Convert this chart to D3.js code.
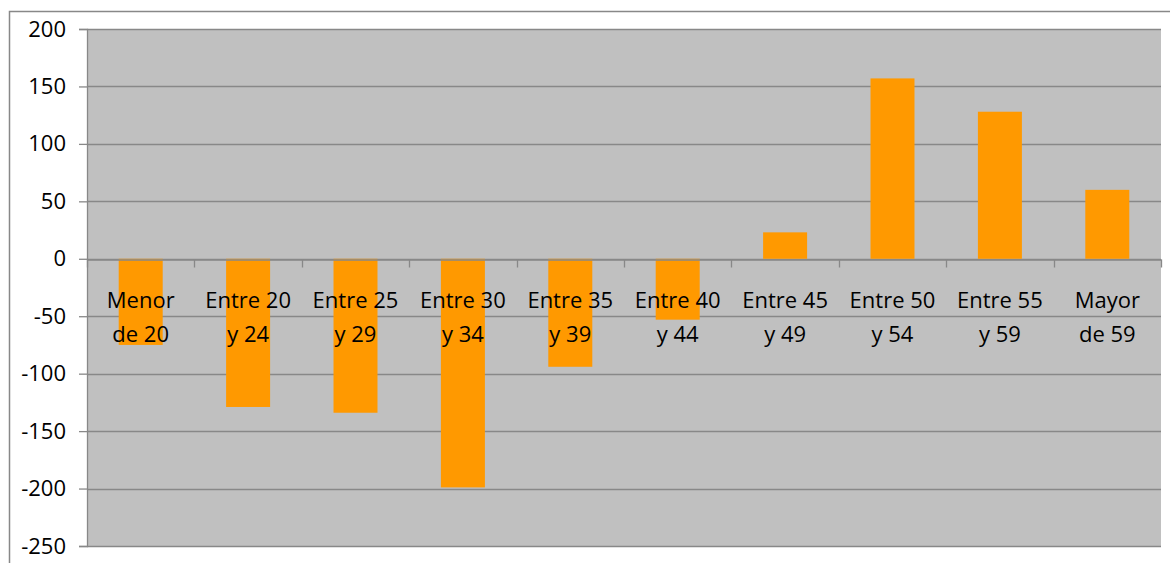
<!DOCTYPE html>
<html>
<head>
<meta charset="utf-8">
<script src="https://cdn.jsdelivr.net/npm/d3@7"></script>
<style>
  html, body { margin: 0; padding: 0; background: #ffffff; }
  svg { display: block; }
  text { font-family: "Open Sans", "Liberation Sans", sans-serif; fill: #000; }
</style>
</head>
<body>
<svg id="chart" width="1170" height="563"></svg>
<script>
// Data
const categories = ["Menor de 20", "Entre 20 y 24", "Entre 25 y 29", "Entre 30 y 34", "Entre 35 y 39",
                    "Entre 40 y 44", "Entre 45 y 49", "Entre 50 y 54", "Entre 55 y 59", "Mayor de 59"];
const labelLine1 = ["Menor", "Entre 20", "Entre 25", "Entre 30", "Entre 35", "Entre 40", "Entre 45", "Entre 50", "Entre 55", "Mayor"];
const labelLine2 = ["de 20", "y 24", "y 29", "y 34", "y 39", "y 44", "y 49", "y 54", "y 59", "de 59"];
const values = [-75, -129, -134, -199, -94, -53, 23, 157, 128, 60];
const yTicks = [200, 150, 100, 50, 0, -50, -100, -150, -200, -250];

const svg = d3.select("#chart");
const plot = { left: 87, top: 29, right: 1161, bottom: 546 };

// outer chart border (cut off at right and bottom)
svg.append("rect")
  .attr("x", 9.5).attr("y", 11.5)
  .attr("width", 1200).attr("height", 600)
  .attr("fill", "#ffffff")
  .attr("stroke", "#888888").attr("stroke-width", 1.5);

const x = d3.scaleBand().domain(categories).range([plot.left, plot.right]).paddingInner(0).paddingOuter(0);
const y = d3.scaleLinear().domain([-250, 200]).range([plot.bottom, plot.top]);

// plot background
svg.append("rect")
  .attr("x", plot.left).attr("y", plot.top)
  .attr("width", plot.right - plot.left).attr("height", plot.bottom - plot.top)
  .attr("fill", "#c0c0c0");

// gridlines
svg.append("g").selectAll("line").data(yTicks).join("line")
  .attr("x1", plot.left).attr("x2", plot.right)
  .attr("y1", d => Math.round(y(d)) + 0.5).attr("y2", d => Math.round(y(d)) + 0.5)
  .attr("stroke", "#888888").attr("stroke-width", 1.3);

// y axis
const yAxis = d3.axisLeft(y).tickValues(yTicks).tickSize(8).tickPadding(13).tickFormat(d => String(d));
const gy = svg.append("g").attr("transform", `translate(${plot.left},0)`).call(yAxis);
gy.select(".domain").attr("stroke", "#888888").attr("stroke-width", 1.3);
gy.selectAll(".tick line").attr("stroke", "#888888").attr("stroke-width", 1.3);
gy.selectAll(".tick text").attr("font-size", 22).attr("font-family", "Open Sans, sans-serif").attr("fill", "#000");

// bars
const barW = 44;
svg.append("g").selectAll("rect").data(values).join("rect")
  .attr("x", (d, i) => x(categories[i]) + x.bandwidth() / 2 - barW / 2)
  .attr("width", barW)
  .attr("y", d => y(Math.max(0, d)))
  .attr("height", d => Math.abs(y(d) - y(0)))
  .attr("fill", "#ff9900");

// x axis at zero
const xAxis = d3.axisBottom(x).tickSize(0).tickFormat("");
const gx = svg.append("g").attr("transform", `translate(0,${Math.round(y(0)) + 0.5})`).call(xAxis);
gx.select(".domain").attr("stroke", "#888888").attr("stroke-width", 1.3);
// category tick marks at band edges
const edges = categories.map(c => x(c)).concat([plot.right]);
gx.append("g").selectAll("line").data(edges).join("line")
  .attr("x1", d => Math.round(d) + 0.5).attr("x2", d => Math.round(d) + 0.5)
  .attr("y1", 0).attr("y2", 8)
  .attr("stroke", "#888888").attr("stroke-width", 1.3);

// category labels
const lab = svg.append("g").selectAll("text").data(categories).join("text")
  .attr("text-anchor", "middle")
  .attr("font-size", 22);
lab.append("tspan")
  .attr("x", c => x(c) + x.bandwidth() / 2)
  .attr("y", 308)
  .text((c, i) => labelLine1[i]);
lab.append("tspan")
  .attr("x", c => x(c) + x.bandwidth() / 2)
  .attr("y", 342)
  .text((c, i) => labelLine2[i]);
</script>
</body>
</html>
